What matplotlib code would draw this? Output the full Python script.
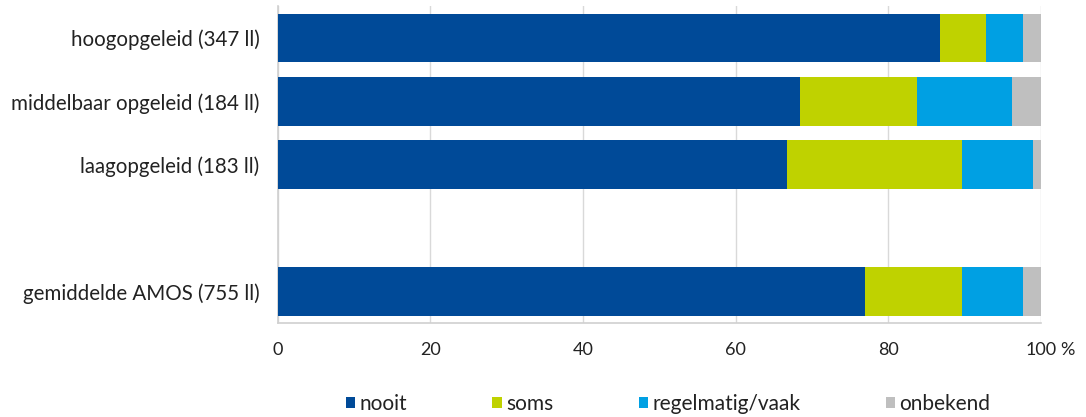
import numpy as np
import matplotlib
matplotlib.use("Agg")
import matplotlib.pyplot as plt

plt.rcParams['font.family'] = ['Lato', 'DejaVu Sans']

# --- data ---
categories = ["hoogopgeleid (347 ll)", "middelbaar opgeleid (184 ll)",
              "laagopgeleid (183 ll)", "gemiddelde AMOS (755 ll)"]
positions = [0, 1, 2, 4]          # gap between group rows and the average row
series_names = ["nooit", "soms", "regelmatig/vaak", "onbekend"]
nooit = [86.8, 68.4, 66.7, 76.9]
soms = [6.0, 15.4, 23.0, 12.8]
regelmatig = [4.9, 12.4, 9.3, 7.9]
onbekend = [2.3, 3.8, 1.0, 2.4]
xticks = [0, 20, 40, 60, 80, 100]

colors = ["#004A98", "#BFD200", "#00A0E3", "#BFBFBF"]

W, H = 1086, 417
fig = plt.figure(figsize=(W / 100, H / 100), dpi=100)
ax = fig.add_axes([277.5 / W, 1 - 323 / H, (1041 - 277.5) / W, (323 - 6.3) / H])

left = np.zeros(len(categories))
for vals, name, col in zip([nooit, soms, regelmatig, onbekend], series_names, colors):
    ax.barh(positions, vals, left=left, height=0.77, color=col, label=name,
            edgecolor="none", zorder=3)
    left += np.array(vals)

ax.set_xlim(0, 100)
ax.set_ylim(4.5, -0.5)
ax.set_xticks(xticks)
ax.set_xticklabels([str(t) for t in xticks], fontsize=13, color="#222222")
ax.set_yticks(positions)
ax.set_yticklabels(categories, fontsize=14.8, color="#222222")
ax.tick_params(axis="both", length=0)
ax.tick_params(axis="x", pad=14)
ax.tick_params(axis="y", pad=13)
ax.grid(axis="x", color="#D9D9D9", linewidth=1, zorder=0)
for s in ["top", "right"]:
    ax.spines[s].set_visible(False)
for s in ["left", "bottom"]:
    ax.spines[s].set_color("#D0D0D0")
    ax.spines[s].set_linewidth(1.2)

fig.text(1067 / W, 1 - 350 / H, "%", fontsize=13, color="#222222",
         ha="center", va="center")

fig.legend(loc="center", bbox_to_anchor=(668 / W, 1 - 404 / H), ncol=4,
           frameon=False, fontsize=15, handlelength=0.45, handleheight=0.45,
           handletextpad=0.2, columnspacing=4.1, labelcolor="#222222")

fig.savefig("out.png", dpi=100)
